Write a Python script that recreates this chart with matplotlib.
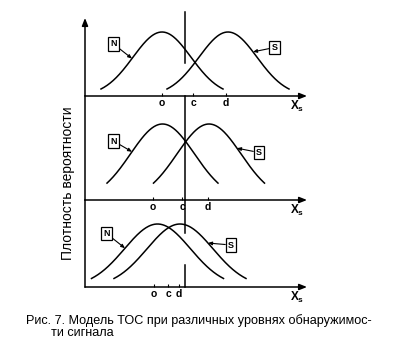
import numpy as np
import matplotlib.pyplot as plt

plt.rcParams["font.family"] = ["Liberation Sans", "DejaVu Sans"]
plt.rcParams["mathtext.fontset"] = "custom"
plt.rcParams["mathtext.rm"] = "Liberation Sans"
plt.rcParams["mathtext.bf"] = "Liberation Sans:bold"

W, H = 407, 345

# one entry per panel, top to bottom (x in arbitrary units along X_s)
noise_mean = [7.7, 7.75, 7.25]
signal_mean = [14.3, 12.4, 9.5]
spread = [2.9, 3.2, 3.3]
peak = [64, 76, 63]
half_width = [6.1, 5.55, 6.6]
criterion = 10.0
tick_pos = [[7.7, 10.8, 14.1], [6.8, 9.7, 12.3], [6.9, 8.3, 9.4]]
tick_labels = ["o", "c", "d"]
# visible pieces of the criterion line (bottom, top) in each panel
crit_segments = [[(33, 84)], [(0, 104)], [(0, 22), (54, 87)]]
# N / S tags: (tag x, tag y, arrow tip x on the curve)
n_tag = [(2.85, 52, 4.7), (2.85, 59, 4.7), (2.15, 53.5, 4.0)]
s_tag = [(18.95, 48.5, 16.8), (17.4, 47.5, 15.2), (14.6, 42, 12.3)]

# panel frames in pixels: (axis line y, panel height)
frames = [(96, 78), (200, 104), (287, 87)]
X_MAX = 22.2

fig = plt.figure(figsize=(W / 100, H / 100), dpi=100)
fig.patch.set_facecolor("white")


def bell(x, mu, sd, top):
    return top * np.exp(-0.5 * ((x - mu) / sd) ** 2)


for i, (base, h) in enumerate(frames):
    ax = fig.add_axes([85 / W, 1 - base / H, X_MAX * 10 / W, h / H])
    ax.set_xlim(0, X_MAX)
    ax.set_ylim(0, h)
    ax.patch.set_alpha(0)
    for sp in ax.spines.values():
        sp.set_visible(False)
    ax.set_yticks([])

    head = "-|>,head_length=0.45,head_width=0.18"
    ax.annotate("", xy=(1.0, 0), xytext=(0, 0), xycoords="axes fraction",
                arrowprops=dict(arrowstyle=head, lw=1.1, color="k",
                                shrinkA=0, shrinkB=0), annotation_clip=False)
    if i == 0:
        ax.annotate("", xy=(0, 1.0), xytext=(0, 0), xycoords="axes fraction",
                    arrowprops=dict(arrowstyle=head, lw=1.1, color="k",
                                    shrinkA=0, shrinkB=0), annotation_clip=False)
    else:
        ax.plot([0, 0], [0, h], color="k", lw=1.1, clip_on=False)

    for mu in (noise_mean[i], signal_mean[i]):
        xs = np.linspace(mu - half_width[i], mu + half_width[i], 200)
        ax.plot(xs, bell(xs, mu, spread[i], peak[i]), color="k", lw=1.1,
                clip_on=False)

    for lo, hi in crit_segments[i]:
        ax.plot([criterion, criterion], [lo, hi], color="k", lw=1.1,
                clip_on=False)

    ax.set_xticks(tick_pos[i], tick_labels)
    ax.tick_params(axis="x", length=2, width=0.8, direction="in", pad=1.5,
                   labelsize=7.5)
    for lbl in ax.get_xticklabels():
        lbl.set_fontweight("bold")
    ax.text(21.2, -3, r"$\mathbf{X}_\mathbf{s}$", fontsize=8.5, ha="center",
            va="top")

    for tag, mu, text in ((n_tag[i], noise_mean[i], "N"),
                          (s_tag[i], signal_mean[i], "S")):
        tx, ty, px = tag
        py = bell(px, mu, spread[i], peak[i])
        ax.annotate(text, xy=(px, py), xytext=(tx, ty), fontsize=6.5,
                    fontweight="bold", ha="center", va="center",
                    bbox=dict(boxstyle="square,pad=0.25", fc="white",
                              ec="k", lw=0.9),
                    arrowprops=dict(arrowstyle="-|>,head_length=0.35,head_width=0.15",
                                    lw=0.8, color="k", shrinkA=0, shrinkB=0),
                    annotation_clip=False)

fig.text(68 / W, 1 - 183 / H, "Плотность вероятности", rotation=90,
         fontsize=10, ha="center", va="center")
fig.text(26 / W, 1 - 321 / H,
         "Рис. 7. Модель ТОС при различных уровнях обнаружимос-",
         fontsize=9.1, ha="left", va="center")
fig.text(51 / W, 1 - 333 / H, "ти сигнала", fontsize=9.1, ha="left",
         va="center")

fig.savefig("out.png", dpi=100, facecolor="white")
